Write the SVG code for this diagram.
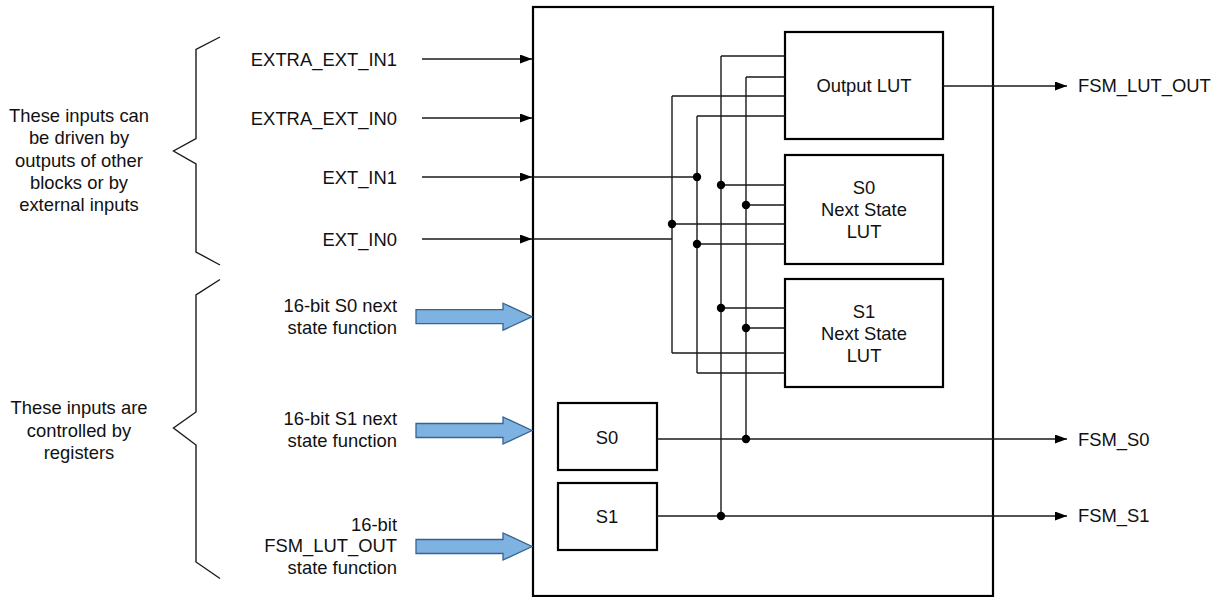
<svg xmlns="http://www.w3.org/2000/svg" width="1217" height="597" viewBox="0 0 1217 597">
<style>
text{font-family:"Liberation Sans",Arial,sans-serif;font-size:18.4px;fill:#111}
.r{text-anchor:end}
.m{text-anchor:middle}
.box{fill:#fff;stroke:#000;stroke-width:2.2}
.w{fill:none;stroke:#1a1a1a;stroke-width:1.4}
.dot{fill:#000}
.blk{fill:#7eb2e0;stroke:#36648f;stroke-width:1.3}
.brace{fill:none;stroke:#1a1a1a;stroke-width:1.4}
</style>
<defs>
<marker id="ah" markerUnits="userSpaceOnUse" markerWidth="12" markerHeight="10" refX="12" refY="4.5" orient="auto">
<path d="M0,0 L12,4.5 L0,9 z" fill="#000"/>
</marker>
<path id="barrow" d="M-116,-7 L-29,-7 L-29,-13.5 L0,0 L-29,13.5 L-29,7 L-116,7 z"/>
</defs>

<g id="brace-top"><path class="brace" d="M220,37 L196,49.5 L196,138.5 L173.5,151 L196,164 L196,252 L220,265"/></g>
<g id="brace-bottom"><path class="brace" d="M220,279.5 L196,295 L196,412 L173.5,428 L196,445 L196,562 L220,578.5"/></g>

<g id="note-external">
<text class="m" x="79" y="122">These inputs can</text>
<text class="m" x="79" y="144.3">be driven by</text>
<text class="m" x="79" y="166.6">outputs of other</text>
<text class="m" x="79" y="188.9">blocks or by</text>
<text class="m" x="79" y="211.2">external inputs</text>
</g>
<g id="note-registers">
<text class="m" x="79" y="414.3">These inputs are</text>
<text class="m" x="79" y="436.6">controlled by</text>
<text class="m" x="79" y="458.9">registers</text>
</g>

<g id="main-block"><rect class="box" x="533" y="7" width="460" height="589" fill="none"/></g>

<g id="output-lut"><rect class="box" x="785" y="32" width="158" height="107"/><text class="m" x="864" y="92">Output LUT</text></g>
<g id="s0-next-lut"><rect class="box" x="785" y="155" width="158" height="109"/>
<text class="m" x="864" y="194">S0</text><text class="m" x="864" y="216">Next State</text><text class="m" x="864" y="238">LUT</text></g>
<g id="s1-next-lut"><rect class="box" x="785" y="279" width="158" height="108"/>
<text class="m" x="864" y="318">S1</text><text class="m" x="864" y="340">Next State</text><text class="m" x="864" y="362">LUT</text></g>
<g id="s0-reg"><rect class="box" x="558" y="403" width="99" height="67"/><text class="m" x="607" y="444">S0</text></g>
<g id="s1-reg"><rect class="box" x="558" y="483" width="99" height="67"/><text class="m" x="607" y="522.5">S1</text></g>

<g id="input-labels">
<text class="r" x="397" y="65.6">EXTRA_EXT_IN1</text>
<text class="r" x="397" y="124.6">EXTRA_EXT_IN0</text>
<text class="r" x="397" y="183.6">EXT_IN1</text>
<text class="r" x="397" y="245.6">EXT_IN0</text>
<text class="r" x="397" y="311.5">16-bit S0 next</text>
<text class="r" x="397" y="333.5">state function</text>
<text class="r" x="397" y="425">16-bit S1 next</text>
<text class="r" x="397" y="447">state function</text>
<text class="r" x="397" y="530.5">16-bit</text>
<text class="r" x="397" y="552">FSM_LUT_OUT</text>
<text class="r" x="397" y="574">state function</text>
</g>
<g id="output-labels">
<text x="1078" y="92">FSM_LUT_OUT</text>
<text x="1078" y="445.6">FSM_S0</text>
<text x="1078" y="522.3">FSM_S1</text>
</g>

<g id="connectors">
<line class="w" x1="422" y1="59" x2="532" y2="59" marker-end="url(#ah)"/>
<line class="w" x1="422" y1="118" x2="532" y2="118" marker-end="url(#ah)"/>
<line class="w" x1="422" y1="177" x2="532" y2="177" marker-end="url(#ah)"/>
<line class="w" x1="422" y1="239" x2="532" y2="239" marker-end="url(#ah)"/>
<path class="w" d="M533,177 H697 M533,239 H672"/>
<use href="#barrow" class="blk" x="532" y="316.7"/>
<use href="#barrow" class="blk" x="532" y="430.5"/>
<use href="#barrow" class="blk" x="532" y="546.5"/>
<path class="w" d="M672,96 V353 M697,116 V373 M721,56 V516 M746,77 V439"/>
<path class="w" d="M721,56 H785 M746,77 H785 M672,96 H785 M697,116 H785"/>
<path class="w" d="M721,185 H785 M746,205 H785 M672,224 H785 M697,244 H785"/>
<path class="w" d="M721,308 H785 M746,328 H785 M672,353 H785 M697,373 H785"/>
<line class="w" x1="943" y1="86" x2="1067" y2="86" marker-end="url(#ah)"/>
<line class="w" x1="657" y1="439" x2="1067" y2="439" marker-end="url(#ah)"/>
<line class="w" x1="657" y1="516" x2="1067" y2="516" marker-end="url(#ah)"/>
<circle class="dot" cx="697" cy="177" r="4.2"/>
<circle class="dot" cx="721" cy="185" r="4.2"/>
<circle class="dot" cx="746" cy="205" r="4.2"/>
<circle class="dot" cx="672" cy="224" r="4.2"/>
<circle class="dot" cx="697" cy="244" r="4.2"/>
<circle class="dot" cx="721" cy="308" r="4.2"/>
<circle class="dot" cx="746" cy="328" r="4.2"/>
<circle class="dot" cx="746" cy="439" r="4.2"/>
<circle class="dot" cx="721" cy="516" r="4.2"/>
</g>
</svg>
